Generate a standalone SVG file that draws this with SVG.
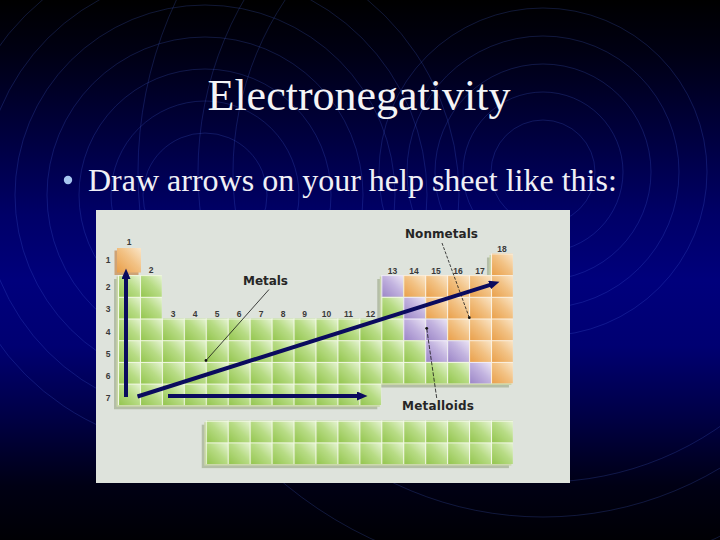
<svg xmlns="http://www.w3.org/2000/svg" width="720" height="540" viewBox="0 0 720 540">
<defs>
<linearGradient id="bg" x1="0" y1="0" x2="0" y2="1">
<stop offset="0" stop-color="#000000"/>
<stop offset="0.1" stop-color="#000014"/>
<stop offset="0.25" stop-color="#00003e"/>
<stop offset="0.4" stop-color="#000068"/>
<stop offset="0.52" stop-color="#00007c"/>
<stop offset="0.64" stop-color="#000072"/>
<stop offset="0.77" stop-color="#000046"/>
<stop offset="0.9" stop-color="#000014"/>
<stop offset="1" stop-color="#000004"/>
</linearGradient>
<linearGradient id="gG" x1="0" y1="1" x2="1" y2="0">
<stop offset="0" stop-color="#92c44c"/>
<stop offset="0.55" stop-color="#b8dc86"/>
<stop offset="1" stop-color="#e6f4d4"/>
</linearGradient>
<linearGradient id="gO" x1="0" y1="1" x2="1" y2="0">
<stop offset="0" stop-color="#e99e48"/>
<stop offset="0.55" stop-color="#f2c285"/>
<stop offset="1" stop-color="#fae6c9"/>
</linearGradient>
<linearGradient id="gP" x1="0" y1="1" x2="1" y2="0">
<stop offset="0" stop-color="#9a84c6"/>
<stop offset="0.55" stop-color="#c2b3df"/>
<stop offset="1" stop-color="#ece6f5"/>
</linearGradient>
<pattern id="pG" patternUnits="userSpaceOnUse" x="118" y="275.1" width="21.94" height="21.7">
<rect width="21.94" height="21.7" fill="url(#gG)"/>
<path d="M0 0.5H21.94M0.5 0V21.7" stroke="#f3f9e6" stroke-width="1.1"/>
</pattern>
<pattern id="pO" patternUnits="userSpaceOnUse" x="118" y="275.1" width="21.94" height="21.7">
<rect width="21.94" height="21.7" fill="url(#gO)"/>
<path d="M0 0.5H21.94M0.5 0V21.7" stroke="#fbf1e2" stroke-width="1.1"/>
</pattern>
<pattern id="pP" patternUnits="userSpaceOnUse" x="118" y="275.1" width="21.94" height="21.7">
<rect width="21.94" height="21.7" fill="url(#gP)"/>
<path d="M0 0.5H21.94M0.5 0V21.7" stroke="#f3effa" stroke-width="1.1"/>
</pattern>
<pattern id="pL" patternUnits="userSpaceOnUse" x="118" y="420.7" width="21.94" height="21.7">
<rect width="21.94" height="21.7" fill="url(#gG)"/>
<path d="M0 0.5H21.94M0.5 0V21.7" stroke="#f3f9e6" stroke-width="1.1"/>
</pattern>
<marker id="ah" markerUnits="userSpaceOnUse" markerWidth="11" markerHeight="9" refX="4" refY="4.5" orient="auto">
<path d="M0,0 L10.5,4.5 L0,9 z" fill="#0b0b5e"/>
</marker>
<style>
.ring{fill:none;stroke:#4a6ae0;stroke-width:0.7;opacity:0.33}
.lbl{font-family:"Liberation Sans",Arial,sans-serif;font-weight:bold;font-size:8.5px;fill:#3a3a3a;text-anchor:middle}
.cat{font-family:"DejaVu Sans",Verdana,sans-serif;font-weight:bold;font-size:12px;fill:#262626}
.arrow{stroke:#0b0b5e;stroke-width:4;fill:none;marker-end:url(#ah)}
.lead{stroke:#151515;stroke-width:0.8;fill:none}
</style>
</defs>
<rect width="720" height="540" fill="url(#bg)"/>
<g id="rings">
<g transform="translate(205,195)">
<circle class="ring" r="62"/><circle class="ring" r="94"/><circle class="ring" r="126"/><circle class="ring" r="158"/><circle class="ring" r="190"/><circle class="ring" r="222"/><circle class="ring" r="254"/>
</g>
<g transform="translate(543,172)">
<circle class="ring" r="52"/><circle class="ring" r="80"/><circle class="ring" r="108"/><circle class="ring" r="136"/><circle class="ring" r="164"/><circle class="ring" r="310"/><circle class="ring" r="345"/><circle class="ring" r="405"/>
</g>
</g>
<g id="title">
<text x="359" y="110" font-family="'Liberation Serif','Times New Roman',serif" font-size="44" fill="#f4f4f6" text-anchor="middle">Electronegativity</text>
</g>
<g id="bullet">
<circle cx="68" cy="180" r="4.2" fill="#a6c6f0"/>
<text x="88" y="191" font-family="'Liberation Serif','Times New Roman',serif" font-size="32" fill="#f0f0f6">Draw arrows on your help sheet like this:</text>
</g>
<g id="table">
<rect x="96" y="210" width="474" height="273" fill="#dee3dc"/>
<path d="M118 275.1H161.88V318.5H381.28V275.1H490.98V253.4H512.92V383.6H381.28V405.3H118Z" fill="#a9b49a" transform="translate(-4,4)" opacity="0.8"/>
<path d="M118 275.1H161.88V318.5H381.28V275.1H490.98V253.4H512.92V383.6H381.28V405.3H118Z" fill="#c9d6a8" transform="translate(-1.5,1.5)"/>
<rect x="201.76" y="424.7" width="307.16" height="43.4" fill="#a9b49a" opacity="0.8"/>
<rect x="204.26" y="422.2" width="307.16" height="43.4" fill="#c9d6a8"/>
<g id="green">
<path d="M118 275.1H161.88V318.5H381.28V405.3H118Z" fill="url(#pG)"/>
<path d="M381.28 296.8H403.22V340.2H425.16V361.9H469.04V383.6H381.28Z" fill="url(#pG)"/>
</g>
<g id="purple">
<rect x="381.28" y="275.1" width="21.94" height="21.7" fill="url(#pP)"/>
<rect x="403.22" y="296.8" width="21.94" height="43.4" fill="url(#pP)"/>
<rect x="425.16" y="318.5" width="21.94" height="43.4" fill="url(#pP)"/>
<rect x="447.1" y="340.2" width="21.94" height="21.7" fill="url(#pP)"/>
<rect x="469.04" y="361.9" width="21.94" height="21.7" fill="url(#pP)"/>
</g>
<g id="orange">
<path d="M403.22 275.1H490.98V253.4H512.92V383.6H490.98V361.9H469.04V340.2H447.1V318.5H425.16V296.8H403.22Z" fill="url(#pO)"/>
</g>
<g id="hydrogen">
<rect x="114.5" y="250.5" width="24" height="24.5" fill="#c8884a" opacity="0.7"/>
<rect x="117" y="248" width="24" height="24.5" fill="url(#gO)"/>
</g>
<g id="lanthanides">
<rect x="205.76" y="420.7" width="307.16" height="43.4" fill="url(#pL)"/>
</g>
<g id="group-labels">
<text class="lbl" x="129" y="245">1</text>
<text class="lbl" x="151" y="273">2</text>
<text class="lbl" x="173" y="317">3</text>
<text class="lbl" x="195" y="317">4</text>
<text class="lbl" x="217" y="317">5</text>
<text class="lbl" x="239" y="317">6</text>
<text class="lbl" x="261" y="317">7</text>
<text class="lbl" x="283" y="317">8</text>
<text class="lbl" x="304.5" y="317">9</text>
<text class="lbl" x="326.5" y="317">10</text>
<text class="lbl" x="348.5" y="317">11</text>
<text class="lbl" x="370.5" y="317">12</text>
<text class="lbl" x="392.5" y="274">13</text>
<text class="lbl" x="414" y="274">14</text>
<text class="lbl" x="436" y="274">15</text>
<text class="lbl" x="458" y="274">16</text>
<text class="lbl" x="480" y="274">17</text>
<text class="lbl" x="502" y="252">18</text>
</g>
<g id="row-labels">
<text class="lbl" x="108" y="263">1</text>
<text class="lbl" x="108" y="290">2</text>
<text class="lbl" x="108" y="312">3</text>
<text class="lbl" x="108" y="335">4</text>
<text class="lbl" x="108" y="356.5">5</text>
<text class="lbl" x="108" y="379">6</text>
<text class="lbl" x="108" y="401">7</text>
</g>
</g>
<g id="metals"><text class="cat" x="243" y="285" textLength="45">Metals</text></g>
<g id="nonmetals"><text class="cat" x="405" y="238" textLength="73">Nonmetals</text></g>
<g id="metalloids"><text class="cat" x="402" y="410" textLength="72">Metalloids</text></g>
<g id="connectors">
<line class="lead" x1="269" y1="289.5" x2="206" y2="360.5"/>
<circle cx="206" cy="360.5" r="1.4" fill="#151515"/>
<line class="lead" x1="442" y1="243" x2="469.3" y2="317.7" stroke-dasharray="3 1.5"/>
<circle cx="469.3" cy="317.7" r="1.4" fill="#151515"/>
<line class="lead" x1="436.7" y1="398" x2="426.7" y2="328.3" stroke-dasharray="4 1.5" stroke-width="1"/>
<circle cx="426.7" cy="328.3" r="1.4" fill="#151515"/>
<line class="arrow" x1="126" y1="397" x2="126" y2="275"/>
<line class="arrow" x1="137.5" y1="396.5" x2="493.3" y2="283.8"/>
<line class="arrow" x1="168" y1="396" x2="361" y2="396"/>
</g>
</svg>
